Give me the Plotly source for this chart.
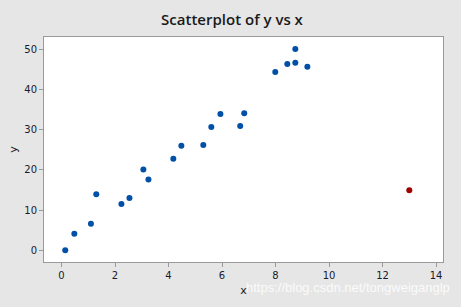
import plotly.graph_objects as go

x_main = [0.14, 0.48, 1.10, 1.30, 2.24, 2.54, 3.06, 3.25, 4.18, 4.48, 5.30, 5.60, 5.94,
          6.68, 6.83, 7.99, 8.44, 8.74, 8.74, 9.19]
y_main = [0.0, 4.1, 6.6, 13.9, 11.5, 13.0, 20.1, 17.6, 22.8, 26.0, 26.2, 30.7, 33.9,
          30.9, 34.1, 44.4, 46.4, 46.7, 50.1, 45.7]
x_out = [13.0]
y_out = [14.9]
x_ticks = [0, 2, 4, 6, 8, 10, 12, 14]
y_ticks = [0, 10, 20, 30, 40, 50]

fig = go.Figure()
fig.add_trace(go.Scatter(x=x_main, y=y_main, mode="markers",
                         marker=dict(color="#0050A8", size=6), showlegend=False))
fig.add_trace(go.Scatter(x=x_out, y=y_out, mode="markers",
                         marker=dict(color="#A00000", size=6), showlegend=False))

axis_common = dict(showline=True, linecolor="#9A9A9A", linewidth=1, mirror=True,
                   showgrid=False, zeroline=False, ticks="outside", ticklen=4,
                   tickcolor="#9A9A9A", tickfont=dict(family="DejaVu Sans", size=10, color="#1A1A2E"))

fig.update_layout(
    width=461, height=307,
    margin=dict(l=44, r=18, t=37, b=42),
    paper_bgcolor="#E6E6E6", plot_bgcolor="#FFFFFF",
    title=dict(text="Scatterplot of y vs x", x=232/461, xanchor="center", y=1-20/307, yanchor="middle",
               font=dict(family="Open Sans", size=15, weight=600, color="#1A1A1A")),
    xaxis=dict(range=[-0.654, 14.26], tickvals=x_ticks, **axis_common,
               title=dict(text="x", font=dict(family="DejaVu Sans", size=11, color="#1A1A1A"), standoff=6)),
    yaxis=dict(range=[-2.95, 53.1], tickvals=y_ticks, **axis_common,
               title=dict(text="y", font=dict(family="DejaVu Sans", size=11, color="#1A1A1A"), standoff=4)),
    annotations=[dict(text="https://blog.csdn.net/tongweiganglp", xref="paper", yref="paper",
                      x=(452 - 44) / 399, y=-(291 - 265) / 228, xanchor="right", yanchor="middle",
                      showarrow=False, font=dict(family="Liberation Sans", size=13, color="rgba(255,255,255,0.85)"))],
)

fig.write_html("out.html")
